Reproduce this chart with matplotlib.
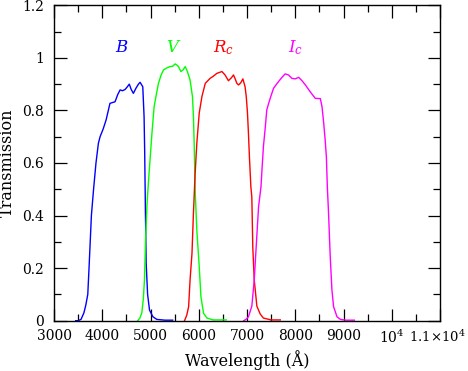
import matplotlib
matplotlib.use("Agg")
import matplotlib.pyplot as plt
import matplotlib.transforms as mtransforms
from matplotlib.ticker import FixedLocator, MultipleLocator, FuncFormatter

plt.rcParams['font.family'] = ['DejaVu Serif']
plt.rcParams['mathtext.fontset'] = 'dejavuserif'

b_wl = [3450, 3500, 3560, 3620, 3660, 3700, 3726, 3775, 3820, 3870, 3920, 3955, 4020, 4080, 4160, 4265,
        4320, 4370, 4420, 4475, 4520, 4560, 4600, 4645, 4700, 4750, 4785, 4840, 4867, 4880, 4895, 4910,
        4940, 4980, 5050, 5130, 5300, 5460]
b_tr = [0.0, 0.0, 0.005, 0.03, 0.06, 0.10, 0.20, 0.40, 0.50, 0.60, 0.675, 0.70, 0.73, 0.764, 0.827, 0.833,
        0.86, 0.878, 0.875, 0.88, 0.89, 0.90, 0.88, 0.865, 0.885, 0.90, 0.907, 0.89, 0.776, 0.638, 0.41, 0.22,
        0.10, 0.04, 0.015, 0.005, 0.002, 0.002]

v_wl = [4735, 4780, 4820, 4850, 4875, 4900, 4930, 4960, 5030, 5075, 5120, 5165, 5220, 5270, 5340, 5405,
        5460, 5510, 5550, 5580, 5630, 5680, 5720, 5765, 5820, 5870, 5890, 5905, 5925, 5960, 6010, 6045,
        6100, 6170, 6300, 6570]
v_tr = [0.0, 0.01, 0.03, 0.08, 0.155, 0.32, 0.45, 0.535, 0.713, 0.814, 0.86, 0.903, 0.935, 0.954, 0.962, 0.967,
        0.968, 0.977, 0.972, 0.967, 0.948, 0.955, 0.967, 0.948, 0.916, 0.852, 0.776, 0.675, 0.497, 0.345, 0.206, 0.091,
        0.028, 0.01, 0.003, 0.003]

r_wl = [5705, 5750, 5790, 5820, 5860, 5890, 5925, 5960, 6010, 6065, 6135, 6235, 6300, 6375, 6480, 6545,
        6615, 6680, 6720, 6755, 6790, 6825, 6870, 6915, 6960, 6985, 7010, 7030, 7050, 7080, 7100, 7120,
        7150, 7205, 7275, 7340, 7500, 7690]
r_tr = [0.0, 0.02, 0.053, 0.155, 0.257, 0.41, 0.56, 0.675, 0.79, 0.852, 0.903, 0.922, 0.93, 0.941, 0.948, 0.935,
        0.913, 0.925, 0.935, 0.92, 0.903, 0.897, 0.905, 0.92, 0.89, 0.852, 0.79, 0.713, 0.624, 0.51, 0.47, 0.28,
        0.155, 0.055, 0.025, 0.01, 0.003, 0.003]

i_wl = [6930, 6980, 7030, 7100, 7150, 7190, 7240, 7290, 7310, 7340, 7380, 7410, 7470, 7515, 7550, 7600,
        7655, 7720, 7790, 7860, 7930, 8000, 8070, 8140, 8210, 8310, 8415, 8520, 8555, 8590, 8620, 8645,
        8665, 8690, 8725, 8760, 8795, 8865, 8935, 9050, 9225]
i_tr = [0.0, 0.005, 0.015, 0.055, 0.155, 0.28, 0.434, 0.51, 0.573, 0.662, 0.738, 0.802, 0.84, 0.865, 0.884, 0.897,
        0.91, 0.925, 0.939, 0.935, 0.922, 0.92, 0.926, 0.913, 0.897, 0.871, 0.846, 0.845, 0.814, 0.751, 0.688, 0.624,
        0.51, 0.41, 0.244, 0.117, 0.053, 0.015, 0.005, 0.002, 0.002]

filters = [
    (b_wl, b_tr, '#0000ff', r'$B$', 4410),
    (v_wl, v_tr, '#00ff00', r'$V$', 5490),
    (r_wl, r_tr, '#ff0000', r'$R_c$', 6510),
    (i_wl, i_tr, '#ff00ff', r'$I_c$', 8000),
]

xticks = [3000, 4000, 5000, 6000, 7000, 8000, 9000, 10000, 11000]
xticklabels = ['3000', '4000', '5000', '6000', '7000', '8000', '9000', r'$\mathregular{10^4}$',
               r'$\mathregular{1.1{\times}10^4}$']

fig = plt.figure(figsize=(4.68, 3.71), dpi=100)
ax = fig.add_axes([54/468, 1 - 320.7/371, (440 - 54)/468, (320.7 - 5.3)/371])

for wl, tr, col, lab, lx in filters:
    ax.plot(wl, tr, color=col, lw=1.0)
    ax.text(lx, 1.04, lab, color=col, ha='center', va='center', fontsize=12)

ax.set_xlim(3000, 11000)
ax.set_ylim(0, 1.2)
ax.xaxis.set_major_locator(FixedLocator(xticks))
ax.set_xticklabels(xticklabels)
ax.xaxis.set_minor_locator(MultipleLocator(500))
ax.yaxis.set_major_locator(MultipleLocator(0.2))
ax.yaxis.set_minor_locator(MultipleLocator(0.1))
ax.yaxis.set_major_formatter(FuncFormatter(lambda v, p: '0' if abs(v) < 1e-9 else ('1' if abs(v - 1) < 1e-9 else f'{v:g}')))
ax.tick_params(which='both', direction='in', top=True, right=True, labelsize=10, colors='black')
ax.tick_params(which='major', length=9, width=0.9)
ax.tick_params(which='minor', length=5, width=0.9)
ax.tick_params(axis='x', pad=6)
ax.tick_params(axis='y', pad=7)
for s in ax.spines.values():
    s.set_linewidth(1.0)

# keep the last x tick label inside the figure
last = ax.get_xticklabels()[-1]
last.set_fontsize(9.5)
last.set_transform(last.get_transform() + mtransforms.ScaledTranslation(-3/100, 0, fig.dpi_scale_trans))

ax.set_xlabel('Wavelength (Å)', fontsize=11.5, labelpad=3)
ax.set_ylabel('Transmission', fontsize=11.5, labelpad=5)

fig.savefig('out.png', dpi=100)
